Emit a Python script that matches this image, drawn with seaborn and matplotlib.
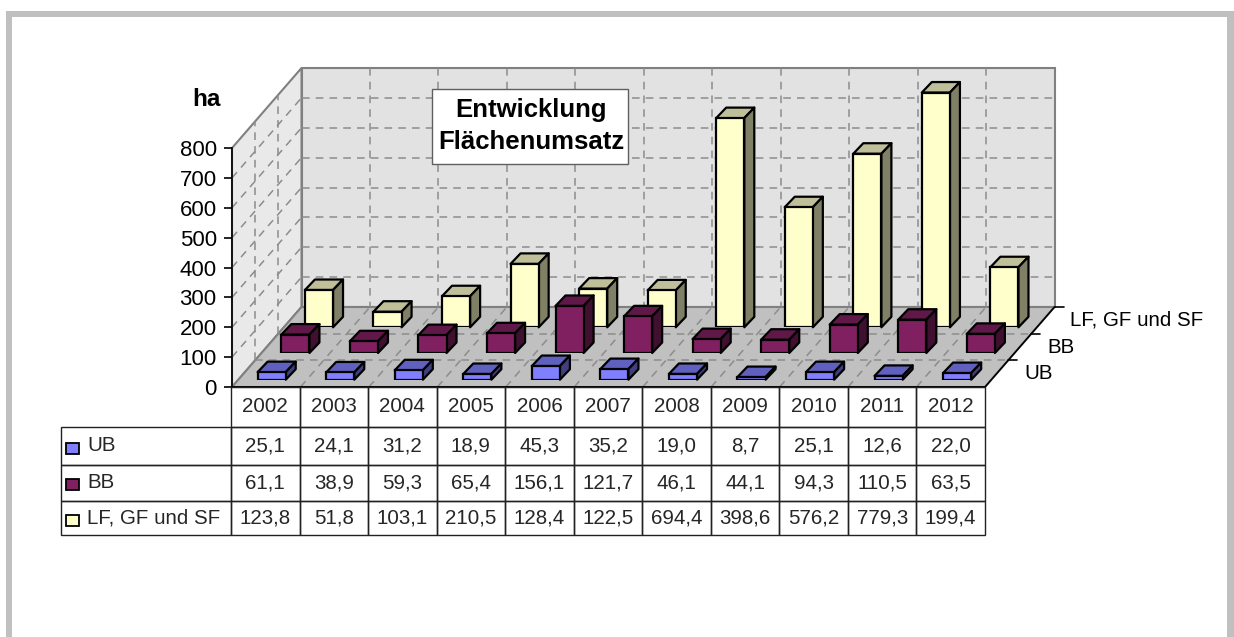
import matplotlib
matplotlib.use('Agg')
import matplotlib.pyplot as plt
from matplotlib.patches import Polygon, Rectangle
from matplotlib.transforms import IdentityTransform
import seaborn as sns

years = ['2002', '2003', '2004', '2005', '2006', '2007', '2008', '2009', '2010', '2011', '2012']
ub = [25.1, 24.1, 31.2, 18.9, 45.3, 35.2, 19.0, 8.7, 25.1, 12.6, 22.0]
bb = [61.1, 38.9, 59.3, 65.4, 156.1, 121.7, 46.1, 44.1, 94.3, 110.5, 63.5]
lf = [123.8, 51.8, 103.1, 210.5, 128.4, 122.5, 694.4, 398.6, 576.2, 779.3, 199.4]
series_names = ['UB', 'BB', 'LF, GF und SF']
yticks = [0, 100, 200, 300, 400, 500, 600, 700, 800]

W, H = 1234, 637
GRID = '#8c8c8c'

sns.set_style('white')
plt.rcParams['font.family'] = ['Liberation Sans', 'DejaVu Sans']

fig = plt.figure(figsize=(W / 100, H / 100), dpi=100, facecolor='white')


def px_axes(left, top, right, bottom, zorder):
    # axes rectangle given in image pixels, y counted from the top
    ax = fig.add_axes([left / W, 1 - bottom / H, (right - left) / W, (bottom - top) / H], zorder=zorder)
    ax.patch.set_visible(False)
    return ax


# everything that is not data: frame, walls, floor, grid
bg = px_axes(0, 0, W, H, 0)
bg.set_xlim(0, W)
bg.set_ylim(H, 0)
bg.axis('off')

bg.add_patch(Rectangle((6, 11), 6, H, color='#c0c0c0', lw=0))
bg.add_patch(Rectangle((6, 11), 1221, 6, color='#c0c0c0', lw=0))
bg.add_patch(Rectangle((1227, 11), 7, H, color='#c0c0c0', lw=0))

x0, x1 = 232, 985      # front edge of the floor
y0, ytop = 387, 148    # front plane 0 and 800
ddx, ddy = 69.5, 80    # full depth of the box
back_x0, back_x1, back_y0 = x0 + ddx, x1 + ddx, y0 - ddy
unit = (y0 - ytop) / 800
cat = (x1 - x0) / 11

bg.add_patch(Polygon([(back_x0, back_y0), (back_x1, back_y0), (back_x1, 68), (back_x0, 68)],
                     fc='#e2e2e2', ec='#808080', lw=1.5))
bg.add_patch(Polygon([(x0, y0), (back_x0, back_y0), (back_x0, 68), (x0, ytop)],
                     fc='#e9e9e9', ec='#808080', lw=1.5))
bg.add_patch(Polygon([(x0, y0), (x1, y0), (back_x1, back_y0), (back_x0, back_y0)],
                     fc='#c0c0c0', ec='#808080', lw=1.5))

dash = dict(color=GRID, lw=1.1, dashes=(5, 4))
for t in yticks[1:-1]:
    yy = t * unit
    bg.plot([back_x0, back_x1], [back_y0 - yy, back_y0 - yy], **dash)
    bg.plot([x0, back_x0], [y0 - yy, back_y0 - yy], **dash)
for k in range(1, 11):
    bg.plot([back_x0 + k * cat] * 2, [68, back_y0], **dash)
    bg.plot([x0 + k * cat, back_x0 + k * cat], [y0, back_y0], **dash)
for r in (1 / 3, 2 / 3):
    bg.plot([x0 + r * ddx] * 2, [y0 - r * ddy, ytop - r * ddy], **dash)
    bg.plot([x0 + r * ddx, x1 + r * ddx], [y0 - r * ddy, y0 - r * ddy], **dash)

# depth axis with series names
bg.plot([x1, back_x1], [y0, back_y0], color='black', lw=1.2)
for r, name in zip((1 / 3, 2 / 3, 1), series_names):
    px, py = x1 + r * ddx, y0 - r * ddy
    bg.plot([px, px + 9], [py, py], color='black', lw=1.2)
    bg.text(px + 16, py + 13.5, name, fontsize=14.8, ha='left', va='center', color='black')

# value axis on the front plane
yax = px_axes(x0, ytop, x1, y0, 1)
yax.set_ylim(0, 800)
yax.set_xlim(0, 1)
yax.set_xticks([])
yax.set_yticks(yticks)
yax.tick_params(axis='y', left=True, length=6, width=1.2, color='black', labelsize=16, pad=5, labelcolor='black')
sns.despine(ax=yax, top=True, right=True, bottom=False)
yax.spines['left'].set_color('black')
yax.spines['left'].set_linewidth(1.2)
yax.spines['bottom'].set_color('black')
yax.spines['bottom'].set_linewidth(1.4)
bg.text(206, 99, 'ha', fontsize=17.5, fontweight='bold', ha='center', va='center', color='black')

# bars, back row first so the front rows overlap it
rows = [
    (lf, 284.7, 327.3, '#ffffcc', '#bfbf99', '#808066', 2),
    (bb, 261.1, 353.0, '#802060', '#601848', '#401030', 3),
    (ub, 237.4, 379.7, '#8080ff', '#6060bf', '#404080', 4),
]
BAR_DX, BAR_DY = 10, 10.5
for values, left, base, front, top, side, z in rows:
    ax = px_axes(left, base - 241, left + 754, base, z)
    sns.barplot(x=years, y=values, ax=ax, color=front, saturation=1, width=0.41,
                edgecolor='black', linewidth=1.6, zorder=3)
    ax.set_ylim(0, 800)
    ax.axis('off')
    for bar in ax.patches:
        (xa, ya), (xb, yb) = ax.transData.transform([(bar.get_x(), 0),
                                                     (bar.get_x() + bar.get_width(), bar.get_height())])
        top_face = [(xa, yb), (xb, yb), (xb + BAR_DX, yb + BAR_DY), (xa + BAR_DX, yb + BAR_DY)]
        side_face = [(xb, ya), (xb + BAR_DX, ya + BAR_DY), (xb + BAR_DX, yb + BAR_DY), (xb, yb)]
        for pts, col in ((top_face, top), (side_face, side)):
            ax.add_patch(Polygon(pts, closed=True, fc=col, ec='black', lw=1.6, joinstyle='round',
                                 transform=IdentityTransform(), clip_on=False, zorder=2))

# data table under the chart
row_h = [39.7, 38, 36, 34.3]
tab_ax = px_axes(61, y0, x1, 535, 6)
tab_ax.axis('off')
fmt = lambda v: f'{v:.1f}'.replace('.', ',')
cells = [[''] + years] + [[n] + [fmt(v) for v in s] for n, s in zip(series_names, (ub, bb, lf))]
tab = tab_ax.table(cellText=cells, cellLoc='center', bbox=[0, 0, 1, 1],
                   colWidths=[170] + [(x1 - 231) / 11] * 11)
tab.auto_set_font_size(False)
tab.set_fontsize(14.8)
for (r, c), cell in tab.get_celld().items():
    cell.set_height(row_h[r])
    cell.set_linewidth(1)
    cell.set_edgecolor('#222222')
    cell.set_facecolor('none')
    if c == 0:
        cell.set_text_props(ha='left')
        cell.PAD = 26 / 170
tab[(0, 0)].visible_edges = ''

# chart title box and legend keys on top of everything
over = px_axes(0, 0, W, H, 8)
over.set_xlim(0, W)
over.set_ylim(H, 0)
over.axis('off')
over.add_patch(Rectangle((432, 89), 196, 75, fc='white', ec='#606060', lw=1))
over.text(531, 126, 'Entwicklung\nFlächenumsatz', fontsize=18.5, fontweight='bold', ha='center', va='center',
          linespacing=1.4, color='black')
for key_y, col in zip((448.5, 484.2, 520.7), ('#8080ff', '#802060', '#ffffcc')):
    over.add_patch(Rectangle((66, key_y - 5.5), 12.5, 11, fc=col, ec='black', lw=1.3))

fig.savefig('out.png', dpi=100)
